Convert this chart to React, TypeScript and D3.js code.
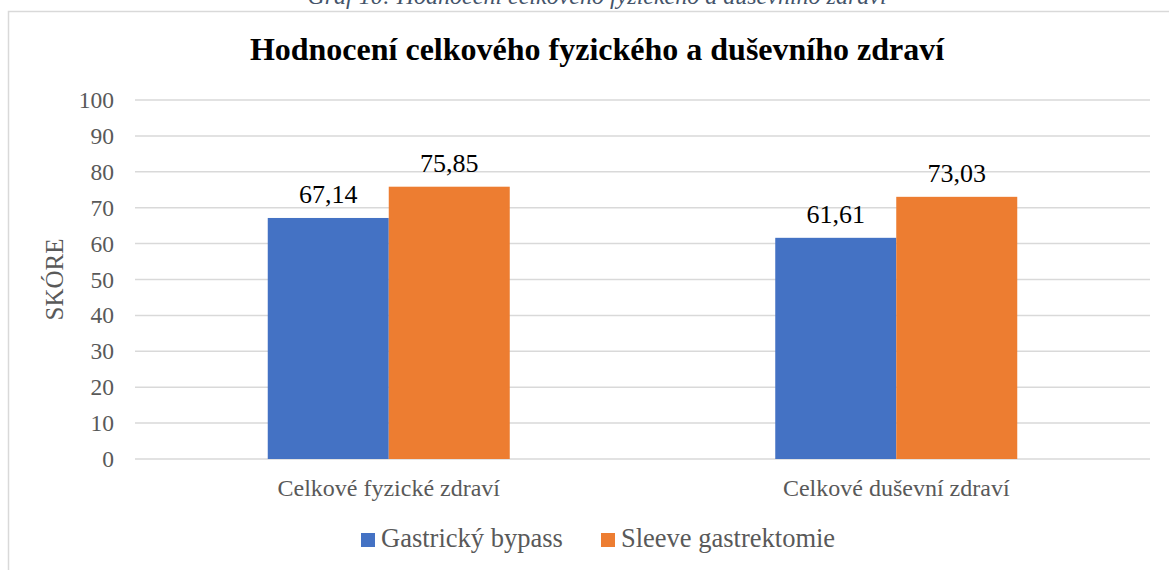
import React from "react";
import * as d3 from "d3";

const categories = ["Celkové fyzické zdraví", "Celkové duševní zdraví"];
const seriesNames = ["Gastrický bypass", "Sleeve gastrektomie"];
const gastricBypass = [67.14, 61.61];
const sleeve = [75.85, 73.03];
const yTicks = [0, 10, 20, 30, 40, 50, 60, 70, 80, 90, 100];
const colors = ["#4472C4", "#ED7D31"];

const W = 1169;
const H = 570;
const FONT = "'Liberation Serif', 'Times New Roman', serif";

export default function App() {
  const left = 135, right = 1150, top = 100, bottom = 459;
  const x = d3.scaleBand<string>().domain(categories).range([left, right]);
  const y = d3.scaleLinear().domain([0, 100]).range([bottom, top]);
  const barW = 121;
  const series = [gastricBypass, sleeve];
  const fmt = (v: number) => v.toFixed(2).replace(".", ",");

  return (
    <svg width={W} height={H} style={{ position: "absolute", left: 0, top: 0, background: "#fff" }}>
      <text x={597} y={4} textAnchor="middle" fontFamily={FONT} fontStyle="italic" fontSize={24} fill="#44546A">
        Graf 10: Hodnocení celkového fyzického a duševního zdraví
      </text>
      <path d={`M8.5,${H} V11.5 H${W}`} fill="none" stroke="#D9D9D9" strokeWidth={1.5} />
      <text x={597} y={60} textAnchor="middle" fontFamily={FONT} fontWeight="bold" fontSize={32} fill="#000">
        Hodnocení celkového fyzického a duševního zdraví
      </text>
      {yTicks.map((t) => (
        <g key={t}>
          <line x1={left} x2={right} y1={y(t)} y2={y(t)} stroke="#D9D9D9" strokeWidth={1.5} />
          <text x={114} y={y(t) + 8} textAnchor="end" fontFamily={FONT} fontSize={23.5} fill="#595959">
            {t}
          </text>
        </g>
      ))}
      <text
        transform={`translate(63,${(top + bottom) / 2}) rotate(-90)`}
        textAnchor="middle"
        fontFamily={FONT}
        fontSize={25}
        fill="#595959"
      >
        SKÓRE
      </text>
      {categories.map((c, i) => {
        const cx = (x(c) as number) + x.bandwidth() / 2;
        return (
          <g key={c}>
            {series.map((s, j) => {
              const bx = cx - barW + j * barW;
              return (
                <g key={j}>
                  <rect x={bx} y={y(s[i])} width={barW} height={bottom - y(s[i])} fill={colors[j]} />
                  <text x={bx + barW / 2} y={y(s[i]) - 15} textAnchor="middle" fontFamily={FONT} fontSize={26} fill="#000">
                    {fmt(s[i])}
                  </text>
                </g>
              );
            })}
            <text x={cx} y={496} textAnchor="middle" fontFamily={FONT} fontSize={24} fill="#595959">
              {c}
            </text>
          </g>
        );
      })}
      {seriesNames.map((n, j) => {
        const lx = [361, 601][j];
        return (
          <g key={n}>
            <rect x={lx} y={533} width={14} height={14} fill={colors[j]} />
            <text x={lx + 20} y={547} fontFamily={FONT} fontSize={26.5} fill="#595959">
              {n}
            </text>
          </g>
        );
      })}
    </svg>
  );
}
